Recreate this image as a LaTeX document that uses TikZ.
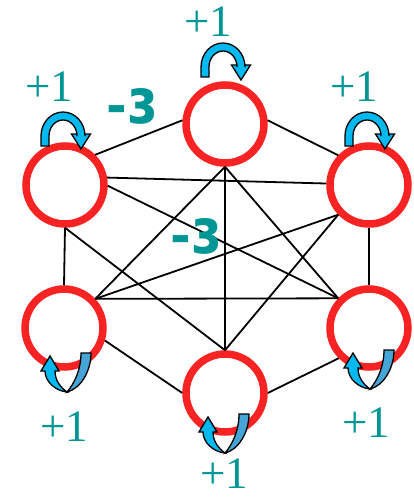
\documentclass[tikz,border=0pt]{standalone}
\usepackage{fontspec}
\usepackage{graphicx}
\setmainfont{Liberation Serif}
\newfontfamily\epsfont{DejaVu Sans}
\usetikzlibrary{positioning}
\definecolor{ringred}{RGB}{250,35,35}
\definecolor{labteal}{RGB}{0,150,150}
\definecolor{loopblue}{RGB}{0,185,240}
\definecolor{loopdark}{RGB}{70,165,215}

\begin{document}
\begin{tikzpicture}[x=1pt, y=-1pt,
  ring/.style={circle, draw=ringred, line width=7.5pt, minimum size=78pt, inner sep=0pt},
  link/.style={draw=black, line width=1.8pt},
  plus/.style={text=labteal, font=\fontsize{45}{45}\selectfont, inner sep=0pt},
  eps/.style={text=labteal, font=\epsfont\bfseries\fontsize{50}{50}\selectfont, inner sep=0pt},
  looptop/.pic={
    \path[draw=black, line width=1.3pt, fill=loopblue] (-22,0) -- (-22,-10)
      arc[start angle=180, end angle=360, x radius=22, y radius=24] -- (22,-12) -- (27.5,-12) -- (18,3) -- (8.5,-12) -- (14,-12) -- (14,-10)
      arc[start angle=360, end angle=180, x radius=14, y radius=16] -- (-14,0) -- cycle;
  },
  loopbot/.pic={
    \path[draw=black, line width=1.3pt, fill=loopdark] (13,-3) -- (23,-3) .. controls (23,16) and (12,33) .. (-1,36)
      .. controls (6,28) and (13,14) .. (13,-3) -- cycle;
    \path[draw=black, line width=1.3pt, fill=loopblue] (-1,36) .. controls (-12,35) and (-23,26) .. (-23,15) -- (-27,15) -- (-18,0) -- (-9,15) -- (-13,15)
      .. controls (-13,24) and (-8,31) .. (-1,36) -- cycle;
  }]
  \useasboundingbox (0,0) rectangle (414,500);
  \node[ring] (top) at (225,124) {};
  \node[ring] (uleft) at (65,185) {};
  \node[ring] (uright) at (369,185) {};
  \node[ring] (lleft) at (64,328) {};
  \node[ring] (lright) at (369,328) {};
  \node[ring] (bot) at (225,393) {};
  \draw[link] (top.175) -- (uleft.45);
  \draw[link] (top.5) -- (uright.136);
  \draw[link] (top.south) -- (lleft.43);
  \draw[link] (top.south) -- (bot.north);
  \draw[link] (top.south) -- (lright.136);
  \draw[link] (uleft.10) -- (uright.178);
  \draw[link] (uleft.-1) -- (lright.136);
  \draw[link] (uleft.south) -- (lleft.north);
  \draw[link] (uleft.south) -- (bot.north);
  \draw[link] (uright.224) -- (lleft.43);
  \draw[link] (uright.224) -- (bot.north);
  \draw[link] (uright.south) -- (lright.north);
  \draw[link] (lleft.43) -- (lright.136);
  \draw[link] (lleft.-17) -- (bot.west);
  \draw[link] (lright.225) -- (bot.east);
  \pic at (223,77) {looptop};
  \pic at (63,146) {looptop};
  \pic at (367,146) {looptop};
  \pic at (68,356) {loopbot};
  \pic at (226,417) {loopbot};
  \pic at (371,353) {loopbot};
  \node[plus] (ptop) at (208,22) {+1};
  \node[plus] (puleft) at (49,87) {+1};
  \node[plus] (puright) at (354,87) {+1};
  \node[plus] (plleft) at (64,427) {+1};
  \node[plus] (pbot) at (224,474) {+1};
  \node[plus] (plright) at (366,423) {+1};
  \node[eps] (eup) at (132,106) {-\scalebox{-1.1}[1.25]{ε}};
  \node[eps] (emid) at (196,236) {-\scalebox{-1.1}[1.25]{ε}};
\end{tikzpicture}
\end{document}
